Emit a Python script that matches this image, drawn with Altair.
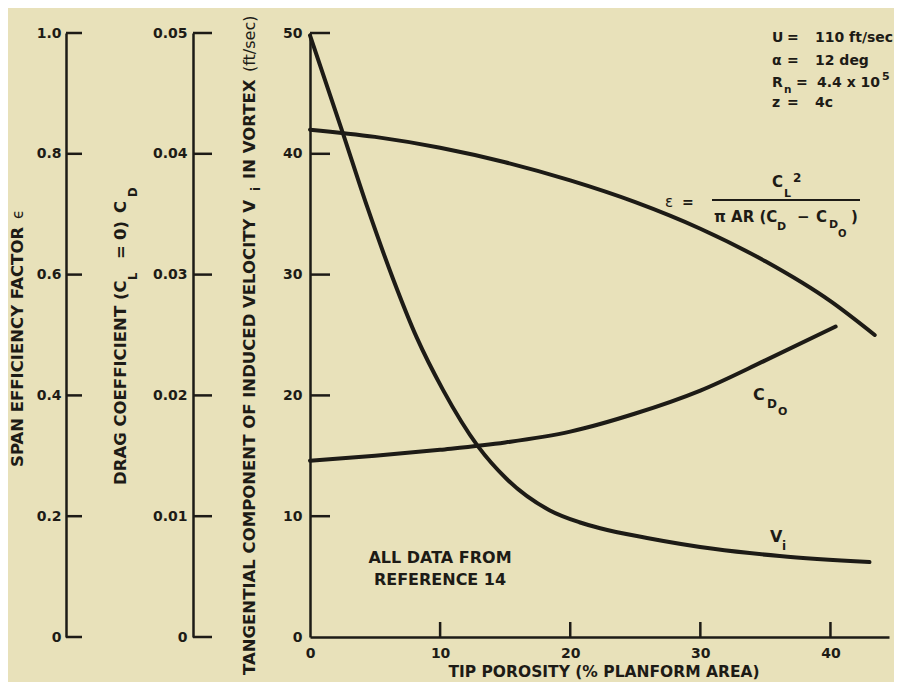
import altair as alt
import pandas as pd

# ---------------- data ----------------
# span efficiency factor epsilon vs tip porosity
eps_x = [0, 5, 10, 15, 20, 25, 30, 35, 40, 43.4]
eps_y = [0.840, 0.828, 0.810, 0.786, 0.756, 0.720, 0.676, 0.622, 0.556, 0.500]
# zero-lift drag coefficient C_Do vs tip porosity
cdo_x = [0, 5, 10, 15, 20, 25, 30, 35, 40.4]
cdo_y = [0.0146, 0.0150, 0.0155, 0.0161, 0.0170, 0.0185, 0.0204, 0.0229, 0.0257]
# tangential induced velocity V_i (ft/sec) vs tip porosity
vi_x = [0, 2.5, 4.4, 6.4, 8.2, 10.2, 12.9, 15.1, 18.4, 20.7, 22.3, 25.9, 31.0, 36.1, 43.0]
vi_y = [49.8, 41.8, 35.6, 29.6, 24.8, 20.5, 15.8, 13.1, 10.5, 9.5, 9.0, 8.2, 7.3, 6.7, 6.2]

x_ticks = [0, 10, 20, 30, 40]
v_ticks = [0, 10, 20, 30, 40, 50]
cd_ticks = [0, 0.01, 0.02, 0.03, 0.04, 0.05]
eps_ticks = [0, 0.2, 0.4, 0.6, 0.8, 1.0]

# ---------------- styling ----------------
FONT = "DejaVu Sans"
INK = "#1d1b16"
BG = "#e8e1ba"
X0, Y0 = 310, 33          # page position of the plot origin
W, H = 579, 604

eps_df = pd.DataFrame({"x": eps_x, "eps": eps_y})
cdo_df = pd.DataFrame({"x": cdo_x, "cd": cdo_y})
vi_df = pd.DataFrame({"x": vi_x, "v": vi_y})
xt_df = pd.DataFrame({"x": [t for t in x_ticks if t > 0]})
vt_df = pd.DataFrame({"v": [t for t in v_ticks if t > 0]})
cdt_df = pd.DataFrame({"cd": cd_ticks})
et_df = pd.DataFrame({"eps": eps_ticks})
one = pd.DataFrame({"k": [0]})

xs = alt.Scale(domain=[0, 44.5], nice=False)
vs = alt.Scale(domain=[0, 50], nice=False)
cds = alt.Scale(domain=[0, 0.05], nice=False)
es = alt.Scale(domain=[0, 1.0], nice=False)

# one x axis definition shared by every layer (so the shared axis merges cleanly)
x_axis = alt.Axis(values=x_ticks, labelPadding=9, labelFlush=False, title=None, orient="bottom")
X = alt.X("x:Q", scale=xs, axis=x_axis)

line_style = dict(color=INK, strokeWidth=4, interpolate="monotone", strokeCap="round")
rule_style = dict(color=INK, strokeWidth=2.5)


def label(text, x, y, size=16, weight="bold", angle=0, align="left", baseline="alphabetic"):
    return alt.Chart(one).mark_text(
        text=text, font=FONT, fontSize=size, fontWeight=weight, color=INK,
        angle=angle, align=align, baseline=baseline,
    ).encode(x=alt.value(x - X0), y=alt.value(y - Y0))


def vlabel(text, xb, ystart, size=16.5, weight="bold"):
    return label(text, xb, ystart, size=size, weight=weight, angle=270)


# ---------------- curves with their axes ----------------
vi_line = alt.Chart(vi_df).mark_line(**line_style).encode(
    x=X,
    y=alt.Y("v:Q", scale=vs,
            axis=alt.Axis(orient="left", values=v_ticks, labelPadding=8, title=None)),
)
cd_line = alt.Chart(cdo_df).mark_line(**line_style).encode(
    x=X,
    y=alt.Y("cd:Q", scale=cds,
            axis=alt.Axis(orient="left", offset=117, values=cd_ticks, labelPadding=6, title=None,
                          labelExpr="datum.value == 0 ? '0' : format(datum.value, '.2f')")),
)
eps_line = alt.Chart(eps_df).mark_line(**line_style).encode(
    x=X,
    y=alt.Y("eps:Q", scale=es,
            axis=alt.Axis(orient="left", offset=244, values=eps_ticks, labelPadding=5, title=None,
                          labelExpr="datum.value == 0 ? '0' : format(datum.value, '.1f')")),
)

# inward tick marks (the reference draws ticks on the plot side of each axis)
v_tick_marks = alt.Chart(vt_df).mark_rule(**rule_style).encode(
    y=alt.Y("v:Q", scale=vs, axis=None), x=alt.value(0), x2=alt.value(20))
cd_tick_marks = alt.Chart(cdt_df).mark_rule(**rule_style).encode(
    y=alt.Y("cd:Q", scale=cds, axis=None), x=alt.value(-117), x2=alt.value(-98))
eps_tick_marks = alt.Chart(et_df).mark_rule(**rule_style).encode(
    y=alt.Y("eps:Q", scale=es, axis=None), x=alt.value(-244), x2=alt.value(-228))
x_tick_marks = alt.Chart(xt_df).mark_rule(**rule_style).encode(
    x=X, y=alt.value(H), y2=alt.value(H - 15))

texts = [
    # x-axis title
    label("TIP POROSITY (% PLANFORM AREA)", 604, 677, size=15.5, align="center"),
    # velocity axis title
    vlabel("TANGENTIAL COMPONENT OF INDUCED VELOCITY V", 254.5, 675),
    vlabel("i", 259.5, 191, size=12),
    vlabel("IN VORTEX", 254.5, 179),
    vlabel("(ft/sec)", 254.5, 72, size=16, weight="normal"),
    # drag coefficient axis title
    vlabel("DRAG COEFFICIENT (C", 126, 485),
    vlabel("L", 136.5, 280, size=11.5),
    vlabel("=", 126, 259),
    vlabel("0)", 126, 240),
    vlabel("C", 126, 213),
    vlabel("D", 136.5, 197, size=11.5),
    # span efficiency axis title
    vlabel("SPAN EFFICIENCY FACTOR", 22.5, 467),
    vlabel("\u03f5", 23, 219, size=15, weight="normal"),
    # test conditions
    label("U", 772, 42, size=14), label("=", 787, 42, size=14), label("110 ft/sec", 815, 42, size=14),
    label("\u03b1", 772, 65, size=14), label("=", 787, 65, size=14), label("12 deg", 815, 65, size=14),
    label("R", 772, 87, size=14), label("n", 784, 93, size=10.5), label("=", 796, 87, size=14),
    label("4.4 x 10", 817, 87, size=14), label("5", 882, 80, size=11),
    label("z", 772, 107, size=14), label("=", 787, 107, size=14), label("4c", 815, 107, size=14),
    # epsilon definition
    label("\u03b5", 665, 207, size=15, weight="normal"),
    label("=", 682, 207, size=14),
    label("C", 772, 187, size=15), label("L", 784, 197, size=11), label("2", 793, 182, size=12),
    label("\u03c0 AR (C", 714, 222, size=15),
    label("D", 777, 230, size=11),
    label("\u2212", 797, 222, size=15),
    label("C", 816, 222, size=15),
    label("D", 829, 228, size=11),
    label("O", 838, 237, size=10),
    label(")", 851, 222, size=15),
    # curve labels
    label("C", 753, 400, size=16), label("D", 767, 408, size=12), label("O", 778, 415, size=11),
    label("V", 770, 542, size=16), label("i", 782, 550, size=12),
    # source note
    label("ALL DATA FROM", 440, 563, size=16, align="center"),
    label("REFERENCE 14", 440, 585, size=16, align="center"),
]
frac_bar = alt.Chart(one).mark_rule(color=INK, strokeWidth=2.2).encode(
    x=alt.value(712 - X0), x2=alt.value(860 - X0), y=alt.value(200 - Y0))

chart = (
    alt.layer(vi_line, cd_line, eps_line,
              v_tick_marks, cd_tick_marks, eps_tick_marks, x_tick_marks,
              frac_bar, *texts)
    .resolve_scale(y="independent")
    .properties(
        width=W, height=H,
        autosize=alt.AutoSizeParams(type="none"),
        padding={"left": X0 - 8, "top": Y0 - 8, "right": 5, "bottom": 45},
        background=BG,
    )
    .configure_view(stroke=None)
    .configure_axis(
        grid=False, ticks=False, tickSize=0,
        labelFont=FONT, labelFontSize=14, labelFontWeight="bold", labelColor=INK,
        domain=True, domainColor=INK, domainWidth=2.5,
    )
)

chart.save("out.html", embed_options={"renderer": "svg", "actions": False})
